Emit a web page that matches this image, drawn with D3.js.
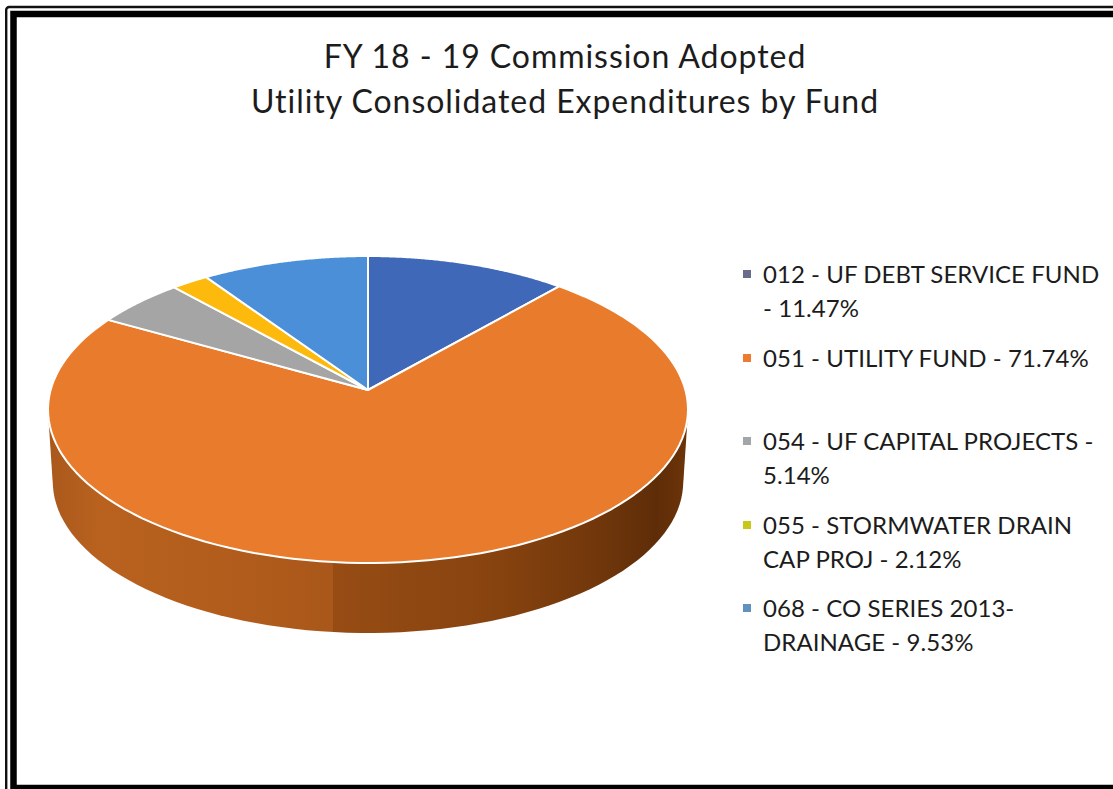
<!DOCTYPE html>
<html><head><meta charset="utf-8">
<script src="https://cdnjs.cloudflare.com/ajax/libs/d3/7.8.5/d3.min.js"></script>
<style>html,body{margin:0;padding:0;background:#fff;overflow:hidden}svg{display:block}text{font-family:Lato,"Noto Sans",sans-serif;fill:#1c1c1c}</style>
</head><body><svg id="c" width="1113" height="789"></svg>
<script>
const titleLines = ["FY 18 - 19 Commission Adopted", "Utility Consolidated Expenditures by Fund"];
const funds = ["012 - UF DEBT SERVICE FUND", "051 - UTILITY FUND", "054 - UF CAPITAL PROJECTS", "055 - STORMWATER DRAIN CAP PROJ", "068 - CO SERIES 2013-DRAINAGE"];
const shares = [11.47, 71.74, 5.14, 2.12, 9.53];
const sliceColors = ["#3f69b8", "#e97c2c", "#a5a5a5", "#fdb90c", "#4a8fd8"];
const wallColors = ["#2c4a82", "#a3561e", "#737373", "#b08208", "#33649a"];
const markerColors = ["#6a6c8e", "#ee7a30", "#a3a6a8", "#c8c81a", "#5f93bd"];
const legendLines = [["012 - UF DEBT SERVICE FUND", "- 11.47%"], ["051 - UTILITY FUND - 71.74%"], ["054 - UF CAPITAL PROJECTS -", "5.14%"], ["055 - STORMWATER DRAIN", "CAP PROJ - 2.12%"], ["068 - CO SERIES 2013-", "DRAINAGE - 9.53%"]];
const legendY = [274, 358, 441, 525, 608];

const svg = d3.select("#c");
const defs = svg.append("defs");

// frame
svg.append("rect").attr("x", 6.2).attr("y", 7).attr("width", 1130).attr("height", 800).attr("rx", 3).attr("fill", "none").attr("stroke", "#111").attr("stroke-width", 2.4);
svg.append("rect").attr("x", 13.5).attr("y", 14).attr("width", 1130).attr("height", 774).attr("fill", "#fff").attr("stroke", "#000").attr("stroke-width", 6.5);

// perspective projection of the pie disc
const apex = [368, 390], A = 317.4, B = 151, k = 0.127, drop = 72.6, shrink = 0.985;
function project(angle, level) {
  const X = Math.sin(angle), Y = -Math.cos(angle), d = 1 - k * Y;
  const s = level ? shrink : 1;
  return [apex[0] + s * A * X / d, apex[1] + (level ? drop : 0) + s * B * Y / d];
}
const arcs = d3.pie().sort(null).value(d => d)(shares);
const arcSamples = a => d3.range(0, 121).map(i => a.startAngle + (a.endAngle - a.startAngle) * i / 120);
const line = d3.line();

// side wall gradient
const grad = defs.append("linearGradient").attr("id", "wall").attr("gradientUnits", "userSpaceOnUse").attr("x1", 48).attr("x2", 688).attr("y1", 0).attr("y2", 0);
[[0, "#a9581c"], [0.08, "#b9621f"], [0.3, "#b15c1c"], [0.445, "#a9571a"], [0.445, "#974c14"], [0.7, "#87430f"], [0.86, "#71370b"], [0.95, "#5e2d08"], [1, "#6d3409"]]
  .forEach(s => grad.append("stop").attr("offset", s[0]).attr("stop-color", s[1]));

arcs.forEach((a, i) => {
  const t = arcSamples(a);
  const hull = d3.polygonHull(t.map(v => project(v, 0)).concat(t.map(v => project(v, 1))));
  svg.append("path").attr("d", line(hull) + "Z").attr("fill", i === 1 ? "url(#wall)" : wallColors[i]);
});

// top faces
arcs.forEach((a, i) => {
  const pts = [apex].concat(arcSamples(a).map(v => project(v, 0)));
  svg.append("path").attr("d", line(pts) + "Z").attr("fill", sliceColors[i]).attr("stroke", "#fff").attr("stroke-width", 2).attr("stroke-linejoin", "round");
});

// title
svg.append("g").selectAll("text").data(titleLines).join("text")
  .attr("x", 565).attr("y", (d, i) => 68 + i * 45).attr("text-anchor", "middle")
  .attr("font-size", 32).attr("letter-spacing", 0.95).text(d => d);

// legend
const lg = svg.append("g").selectAll("g").data(legendLines).join("g").attr("transform", (d, i) => `translate(0,${legendY[i]})`);
lg.append("rect").attr("x", 743).attr("y", -4).attr("width", 8).attr("height", 8).attr("fill", (d, i) => markerColors[i]);
lg.selectAll("text").data(d => d).join("text")
  .attr("x", 763).attr("y", (d, i) => 9 + i * 33.5)
  .attr("font-size", 24).attr("letter-spacing", 0.05).text(d => d);
</script></body></html>
